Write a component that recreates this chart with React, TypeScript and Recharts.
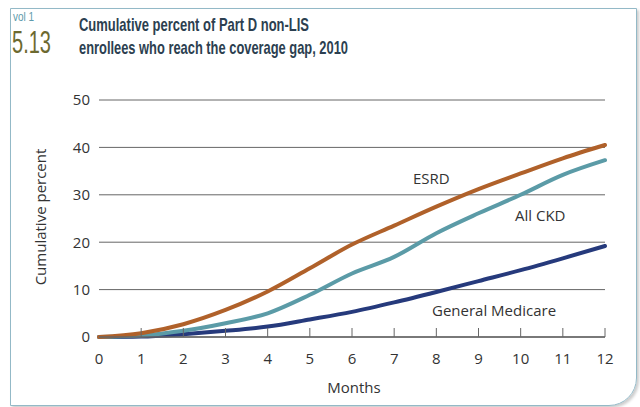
import { LineChart, Line, XAxis, YAxis, CartesianGrid } from 'recharts';

const months = [0, 1, 2, 3, 4, 5, 6, 7, 8, 9, 10, 11, 12];
const esrd = [0, 0.8, 2.7, 5.7, 9.6, 14.5, 19.5, 23.5, 27.5, 31.2, 34.5, 37.7, 40.5];
const allCkd = [0, 0.3, 1.3, 2.9, 5.0, 8.9, 13.4, 16.9, 21.9, 26.1, 30.0, 34.2, 37.3];
const generalMedicare = [0, 0.1, 0.6, 1.3, 2.2, 3.7, 5.3, 7.3, 9.5, 11.8, 14.1, 16.6, 19.2];
const yTicks = [0, 10, 20, 30, 40, 50];

const data = months.map((m, i) => ({
    month: m,
    esrd: esrd[i],
    allCkd: allCkd[i],
    general: generalMedicare[i],
}));

const FONT = "'Open Sans', 'Noto Sans', sans-serif";
const TITLE_FONT = "'Liberation Sans Narrow', 'Liberation Sans', sans-serif";

// x ticks sit on the axis line and point upward
const MonthTick = (props: any) => {
    const { x, y, payload } = props;
    return (
        <g>
            {payload.value !== 0 && <line x1={x} x2={x} y1={y - 9} y2={y} stroke="#666" strokeWidth={1} />}
            <text x={x} y={y + 27} textAnchor="middle" fill="#333" fontSize={15} fontFamily={FONT}>
                {payload.value}
            </text>
        </g>
    );
};

export default function App() {
    return (
        <div style={{ position: 'absolute', left: 0, top: 0, width: 640, height: 407, overflow: 'hidden', background: '#fff' }}>
            <div
                style={{
                    position: 'absolute',
                    left: 10,
                    top: 8,
                    width: 625,
                    height: 396,
                    border: '1.5px solid #93b9c7',
                    borderBottomRightRadius: 28,
                    boxShadow: '2px 2px 3px rgba(0,0,0,0.2)',
                }}
            />
            <div style={{ position: 'absolute', left: 0, top: 0 }}>
                <LineChart width={640} height={407} data={data} margin={{ top: 100, right: 35, bottom: 0, left: 0 }}>
                    <CartesianGrid vertical={false} stroke="#666" strokeWidth={1} />
                    <XAxis
                        dataKey="month"
                        type="number"
                        domain={[0, 12]}
                        ticks={months}
                        height={70}
                        axisLine={{ stroke: '#666', strokeWidth: 1.5 }}
                        tickLine={false}
                        tickSize={0}
                        tickMargin={0}
                        tick={<MonthTick />}
                    />
                    <YAxis
                        type="number"
                        domain={[0, 50]}
                        ticks={yTicks}
                        width={99}
                        axisLine={false}
                        tickLine={false}
                        tickSize={0}
                        tickMargin={9}
                        tick={{ fill: '#333', fontSize: 15, fontFamily: FONT }}
                    />
                    <Line type="monotone" dataKey="general" stroke="#263a7c" strokeWidth={4} strokeLinecap="round" dot={false} isAnimationActive={false} />
                    <Line type="monotone" dataKey="allCkd" stroke="#5b9ba7" strokeWidth={4} strokeLinecap="round" dot={false} isAnimationActive={false} />
                    <Line type="monotone" dataKey="esrd" stroke="#b0612a" strokeWidth={4} strokeLinecap="round" dot={false} isAnimationActive={false} />
                </LineChart>
            </div>
            <svg width={640} height={407} style={{ position: 'absolute', left: 0, top: 0, pointerEvents: 'none' }}>
                <text x={13} y={21} fontSize={12} fill="#5e9aab" fontFamily={TITLE_FONT} textLength={21} lengthAdjust="spacingAndGlyphs">
                    vol 1
                </text>
                <text x={12} y={53} fontSize={32} fill="#6c692f" fontFamily={TITLE_FONT} textLength={39} lengthAdjust="spacingAndGlyphs">
                    5.13
                </text>
                <text x={79} y={31} fontSize={19} fontWeight="bold" fill="#2c3f50" fontFamily={TITLE_FONT} textLength={230} lengthAdjust="spacingAndGlyphs">
                    Cumulative percent of Part D non-LIS
                </text>
                <text x={79} y={54} fontSize={19} fontWeight="bold" fill="#2c3f50" fontFamily={TITLE_FONT} textLength={269} lengthAdjust="spacingAndGlyphs">
                    enrollees who reach the coverage gap, 2010
                </text>
                <text transform="translate(46,217) rotate(-90)" textAnchor="middle" fontSize={15} fill="#333" fontFamily={FONT}>
                    Cumulative percent
                </text>
                <text x={354} y={393} textAnchor="middle" fontSize={15} fill="#333" fontFamily={FONT}>
                    Months
                </text>
                <text x={413} y={184} fontSize={15} fill="#333" fontFamily={FONT}>
                    ESRD
                </text>
                <text x={515} y={221} fontSize={15} fill="#333" fontFamily={FONT}>
                    All CKD
                </text>
                <text x={432} y={316} fontSize={15} fill="#333" fontFamily={FONT}>
                    General Medicare
                </text>
            </svg>
        </div>
    );
}
